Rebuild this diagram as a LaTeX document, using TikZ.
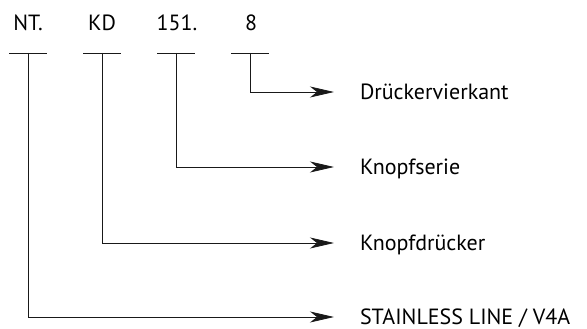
\documentclass[tikz,border=0pt]{standalone}
\usepackage{fontspec}
\setmainfont{PT Sans}
\usepackage{tikz}
\usetikzlibrary{arrows.meta}

\begin{document}
\begin{tikzpicture}[
  x=1pt, y=-1pt,
  code/.style={anchor=base, inner sep=0pt, font=\fontsize{22}{26}\selectfont},
  part/.style={anchor=west, inner sep=0pt, outer xsep=26pt, text height=15pt, text depth=0pt, font=\fontsize{22}{26}\selectfont},
  bar/.style={line width=0.8pt, black!90},
  arrow/.style={line width=0.8pt, black!90, -{Stealth[length=24pt, width=11pt, inset=7pt]}}
]
\useasboundingbox (0,0) rectangle (587,329);

% code parts
\node[code] (nt) at (28,31) {NT.};
\node[code] (kd) at (102,31) {KD};
\node[code] (ser) at (177,31) {151.};
\node[code] (sq) at (251,31) {8};

\coordinate (nt-u) at (28,53);
\coordinate (kd-u) at (102,53);
\coordinate (ser-u) at (176,53);
\coordinate (sq-u) at (250,53);

\foreach \c in {nt-u,kd-u,ser-u,sq-u}
  \draw[bar] ([xshift=-19pt]\c) -- ([xshift=19pt]\c);

% meanings
\node[part] (drv) at (334,92) {Drückervierkant};
\node[part] (kps) at (334,167) {Knopfserie};
\node[part] (kpd) at (334,243) {Knopfdrücker};
\node[part] (stl) at (334,317) {STAINLESS LINE / V4A};

\draw[arrow] (sq-u) |- (drv.west);
\draw[arrow] (ser-u) |- (kps.west);
\draw[arrow] (kd-u) |- (kpd.west);
\draw[arrow] (nt-u) |- (stl.west);

\end{tikzpicture}
\end{document}
